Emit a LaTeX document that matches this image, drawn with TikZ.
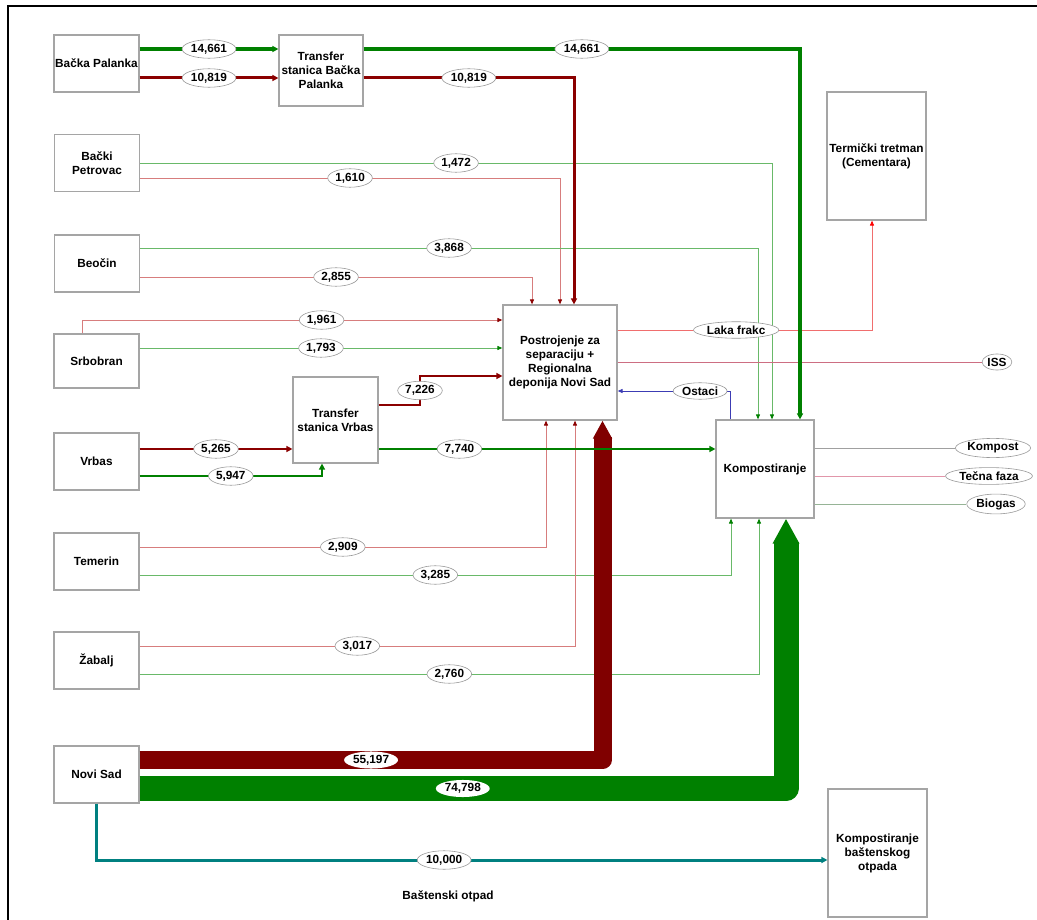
\documentclass[tikz,border=0pt]{standalone}
\usepackage{fontspec}
\setmainfont{Liberation Sans}
\usetikzlibrary{shapes.geometric, arrows.meta}
\definecolor{mygreen}{RGB}{0,128,0}
\definecolor{myred}{RGB}{139,0,0}
\definecolor{bandred}{RGB}{128,0,0}
\definecolor{thinred}{RGB}{215,125,125}
\definecolor{thingreen}{RGB}{105,185,105}
\definecolor{myteal}{RGB}{0,128,128}
\definecolor{myblue}{RGB}{60,60,180}
\definecolor{lightred}{RGB}{240,110,110}
\definecolor{issred}{RGB}{205,110,130}
\definecolor{mypink}{RGB}{225,150,170}
\definecolor{boxgray}{RGB}{165,165,165}
\definecolor{outgray}{RGB}{160,160,160}
\definecolor{biogreen}{RGB}{150,180,150}
\tikzset{
  box/.style={rectangle, draw=boxgray, fill=white, line width=1.2pt,
    align=center, inner sep=0pt, font=\bfseries\fontsize{11.8}{14}\selectfont},
  town/.style={box, minimum width=85pt, minimum height=57pt},
  lbl/.style={ellipse, draw=gray!80, fill=white, text=black, line width=0.6pt,
    inner xsep=1pt, inner ysep=1.5pt, font=\bfseries\fontsize{11.8}{13}\selectfont},
  bandlbl/.style={ellipse, fill=white, text=black, inner xsep=1pt, inner ysep=1pt,
    font=\bfseries\fontsize{11.8}{13}\selectfont},
  redthin/.style={draw=thinred, line width=0.9pt,
    -{Triangle[length=5pt, width=4pt, color=myred]}},
  greenthin/.style={draw=thingreen, line width=0.9pt,
    -{Triangle[length=5pt, width=4pt, color=mygreen]}},
  redflow/.style={draw=myred, -{Triangle[length=6pt, width=6pt]}},
  greenflow/.style={draw=mygreen, -{Triangle[length=6pt, width=6pt]}},
  band/.style={line join=round, -{Triangle[length=#1, width=#1]}},
  outline/.style={line width=0.9pt}
}

\begin{document}
\begin{tikzpicture}[x=1pt, y=-1pt]
  \useasboundingbox (0,0) rectangle (1037,920);
  % Frame
  \draw[line width=2.5pt] (8,920) -- (8,6) -- (1037,6);

  % Municipalities
  \node[town] (bp) at (96.5,63.5) {Bačka Palanka};
  \node[town] (bpet) at (97,163) {Bački\\Petrovac};
  \node[town] (beo) at (97,263.5) {Beočin};
  \node[town, minimum height=54pt] (srb) at (96.5,361) {Srbobran};
  \node[town] (vrb) at (96.5,461.5) {Vrbas};
  \node[town] (tem) at (96.5,561.5) {Temerin};
  \node[town] (zab) at (96.5,660.5) {Žabalj};
  \node[town] (ns) at (96.5,774.5) {Novi Sad};

  % Transfer stations and plants
  \node[box, minimum width=84pt, minimum height=71pt] (tbp) at (321,70.5) {Transfer\\stanica Bačka\\Palanka};
  \node[box, minimum width=85pt, minimum height=86pt] (tvr) at (335.5,420) {Transfer\\stanica Vrbas};
  \node[box, minimum width=114pt, minimum height=115pt] (sep) at (560,362.5) {Postrojenje za\\separaciju +\\Regionalna\\deponija Novi Sad};
  \node[box, minimum width=98pt, minimum height=98pt] (kom) at (765,469) {Kompostiranje};
  \node[box, minimum width=99pt, minimum height=128pt] (term) at (876.5,156) {Termički tretman\\(Cementara)};
  \node[box, minimum width=99pt, minimum height=128pt] (kbo) at (877.5,853) {Kompostiranje\\baštenskog\\otpada};

  % Outputs
  \node[lbl] (iss) at (997,362) {ISS};
  \node[lbl] (kmp) at (993,448) {Kompost};
  \node[lbl] (tec) at (989,476) {Tečna faza};
  \node[lbl] (bio) at (996,504) {Biogas};
  \node[font=\bfseries\fontsize{11.8}{13}\selectfont] (bot) at (448,896) {Baštenski otpad};

  % Thin flows
  \draw[greenthin] (bpet.east |- 0,163) -| node[lbl, pos=0.25] {1,472} (kom.north -| 772,0);
  \draw[redthin] (bpet.east |- 0,178) -| node[lbl, pos=0.25] {1,610} (sep.north -| 560,0);
  \draw[greenthin] (beo.east |- 0,248) -| node[lbl, pos=0.25] {3,868} (kom.north -| 758,0);
  \draw[redthin] (beo.east |- 0,277) -| node[lbl, pos=0.25] {2,855} (sep.north -| 532,0);
  \draw[redthin] (srb.north -| 82,0) |- node[lbl, pos=0.785] {1,961} (sep.west |- 0,320);
  \draw[greenthin] (srb.east |- 0,348) -- node[lbl] {1,793} (sep.west |- 0,348);
  \draw[redthin] (tem.east |- 0,547) -| node[lbl, pos=0.25] {2,909} (sep.south -| 546,0);
  \draw[greenthin] (tem.east |- 0,575) -| node[lbl, pos=0.25] {3,285} (kom.south -| 731,0);
  \draw[redthin] (zab.east |- 0,646) -| node[lbl, pos=0.25] {3,017} (sep.south -| 575,0);
  \draw[greenthin] (zab.east |- 0,674) -| node[lbl, pos=0.25] {2,760} (kom.south -| 759,0);

  % Plant outputs
  \draw[outline, draw=lightred, -{Triangle[length=5pt, width=4pt, color=red]}]
    (sep.east |- 0,330) -| node[lbl, pos=0.233] {Laka frakc} (term.south -| 872,0);
  \draw[outline, draw=issred] (sep.east |- 0,362) -- (iss);
  \draw[outline, draw=myblue, -{Triangle[length=5pt, width=4pt]}]
    (kom.north -| 730,0) |- node[lbl, pos=0.633] {Ostaci} (sep.east |- 0,391);
  \draw[outline, draw=outgray] (kom.east |- 0,448) -- (kmp);
  \draw[outline, draw=mypink] (kom.east |- 0,476) -- (tec);
  \draw[outline, draw=biogreen] (kom.east |- 0,504) -- (bio);

  % Novi Sad main flows
  \draw[bandred, line width=18pt, band=18pt] (ns.east |- 0,760) -| node[bandlbl, pos=0.25] {55,197} (sep.south -| 602.5,0);
  \draw[mygreen, line width=25pt, band=25pt] (ns.east |- 0,788.5) -| node[bandlbl, pos=0.25] {74,798} (kom.south -| 786,0);
  \draw[myteal, line width=3pt, -{Triangle[length=6pt, width=6pt]}]
    (ns.south -| 96,0) |- node[lbl, pos=0.738] {10,000} (kbo.west |- 0,860);

  % Transfer station flows
  \draw[greenflow, line width=4.5pt] (bp.east |- 0,49) -- node[lbl] {14,661} (tbp.west |- 0,49);
  \draw[redflow, line width=3pt] (bp.east |- 0,78) -- node[lbl] {10,819} (tbp.west |- 0,78);
  \draw[greenflow, line width=4.5pt] (tbp.east |- 0,49) -| node[lbl, pos=0.25] {14,661} (kom.north -| 800,0);
  \draw[redflow, line width=3pt] (tbp.east |- 0,78) -| node[lbl, pos=0.25] {10,819} (sep.north -| 574,0);
  \draw[redflow, line width=2.5pt] (vrb.east |- 0,449) -- node[lbl] {5,265} (tvr.west |- 0,449);
  \draw[greenflow, line width=2pt] (vrb.east |- 0,476) -| node[lbl, pos=0.25] {5,947} (tvr.south -| 322,0);
  \draw[redflow, line width=2.5pt] (tvr.east |- 0,405) -| node[lbl, pos=0.75] {7,226} (420,376) -- (sep.west |- 0,376);
  \draw[greenflow, line width=2.5pt] (tvr.east |- 0,449) -- node[lbl, pos=0.24] {7,740} (kom.west |- 0,449);
\end{tikzpicture}
\end{document}
